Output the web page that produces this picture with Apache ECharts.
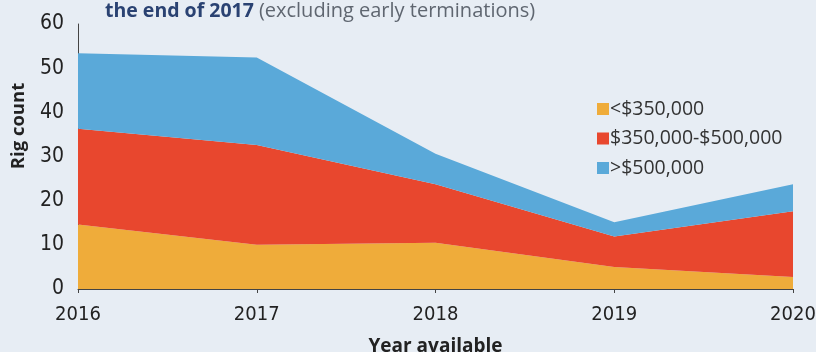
<!DOCTYPE html>
<html><head><meta charset="utf-8">
<script src="https://cdn.jsdelivr.net/npm/echarts@6/dist/echarts.min.js"></script>
<style>html,body{margin:0;padding:0;background:#e7edf4;}#c{width:816px;height:352px;}</style>
</head><body><div id="c"></div>
<script>
const years = ['2016','2017','2018','2019','2020'];
const seriesNames = ['<$350,000','$350,000-$500,000','>$500,000'];
const under350 = [14.6, 10.0, 10.5, 5.0, 2.7];
const mid350to500 = [21.7, 22.6, 13.2, 6.9, 14.9];
const over500 = [17.1, 19.8, 6.9, 3.2, 6.1];
const yTicks = [0,10,20,30,40,50,60];
const colors = ['#efac3a','#e8472e','#5aa9d9'];
const numFont = '"Liberation Sans Narrow","DejaVu Sans Condensed","Roboto",sans-serif';
const txtFont = '"Open Sans",sans-serif';

const chart = echarts.init(document.getElementById('c'));
const mk = (name, data, i) => ({
  name, type:'line', stack:'total', data, symbol:'none',
  lineStyle:{width:0}, areaStyle:{color:colors[i], opacity:1},
  itemStyle:{color:colors[i]}, z: 2
});
chart.setOption({
  backgroundColor:'#e7edf4',
  animation:false,
  title:{
    left:100, top:-4,
    text:'{b|the end of 2017} {n|(excluding early terminations)}',
    textStyle:{rich:{
      b:{fontWeight:'bold',fontSize:19.5,color:'#2a4272',fontFamily:txtFont},
      n:{fontWeight:'normal',fontSize:20,color:'#5f6670',fontFamily:txtFont}
    }}
  },
  grid:{left:78,right:23,top:24,bottom:63,outerBoundsMode:'none',containLabel:false},
  legend:{
    orient:'vertical', left:592, top:94, itemWidth:12, itemHeight:12, itemGap:9.5,
    icon:'rect', data:seriesNames,
    textStyle:{fontSize:19.5,color:'#333',fontFamily:txtFont,padding:[0,0,0,-4]}
  },
  graphic:[{
    type:'text', x:19, y:126, rotation:Math.PI/2,
    style:{text:'Rig count', font:'bold 18.5px "Open Sans",sans-serif', fill:'#222',
      textAlign:'center', textVerticalAlign:'middle'}
  }],
  xAxis:{
    type:'category', data:years, boundaryGap:false,
    axisLine:{lineStyle:{color:'#444',width:1}},
    axisTick:{show:true,length:4,lineStyle:{color:'#444'}},
    axisLabel:{fontSize:20,color:'#222',fontFamily:numFont,margin:16},
    name:'Year available', nameLocation:'middle', nameGap:48,
    nameTextStyle:{fontSize:19,fontWeight:'bold',color:'#222',fontFamily:txtFont}
  },
  yAxis:{
    type:'value', min:0, max:60, interval:10,
    axisLine:{show:true,lineStyle:{color:'#444',width:1}},
    axisTick:{show:false}, splitLine:{show:false},
    axisLabel:{fontSize:21,color:'#222',fontFamily:numFont,margin:14,
      formatter:v=>yTicks.includes(v)?String(v):''}
  },
  series:[mk(seriesNames[0],under350,0),mk(seriesNames[1],mid350to500,1),mk(seriesNames[2],over500,2)]
});
</script></body></html>
